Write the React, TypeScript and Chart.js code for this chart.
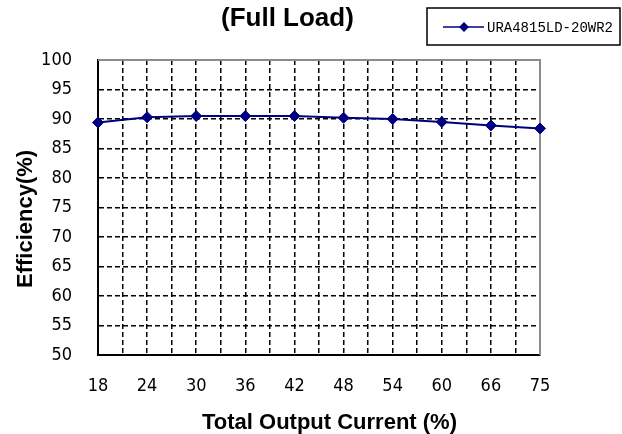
import React, { useEffect, useRef } from 'react';
import { Chart, registerables } from 'chart.js';

Chart.register(...registerables);

const categories = ['18', '24', '30', '36', '42', '48', '54', '60', '66', '75'];
const efficiency = [89.4, 90.3, 90.5, 90.5, 90.5, 90.2, 90.0, 89.5, 88.9, 88.4];
const seriesLabel = 'URA4815LD-20WR2';
const chartTitle = '(Full Load)';
const xTitle = 'Total Output Current (%)';
const yTitle = 'Efficiency(%)';
const yMin = 50;
const yMax = 100;
const yStep = 5;

const NAVY = '#000080';
const BOLD = '"Liberation Sans", Arial, sans-serif';
const MONO = '"Liberation Mono", monospace';
const TICK = '"DejaVu Sans Condensed", "Liberation Sans Narrow", "DejaVu Sans", sans-serif';

function drawDiamond(ctx: CanvasRenderingContext2D, x: number, y: number, r: number) {
  ctx.beginPath();
  ctx.moveTo(x, y - r);
  ctx.lineTo(x + r, y);
  ctx.lineTo(x, y + r);
  ctx.lineTo(x - r, y);
  ctx.closePath();
  ctx.fill();
}

const decor = {
  id: 'decor',
  beforeDatasetsDraw(chart: any) {
    const { ctx, chartArea: a } = chart;
    ctx.save();
    ctx.strokeStyle = '#8c8c8c';
    ctx.lineWidth = 2;
    ctx.beginPath();
    ctx.moveTo(a.left, a.top);
    ctx.lineTo(a.right, a.top);
    ctx.lineTo(a.right, a.bottom);
    ctx.stroke();
    ctx.restore();
  },
  afterDraw(chart: any) {
    const { ctx } = chart;
    ctx.save();
    ctx.fillStyle = '#000';
    ctx.textBaseline = 'alphabetic';
    ctx.textAlign = 'left';
    // chart title
    ctx.font = `bold 26px ${BOLD}`;
    ctx.fillText(chartTitle, 221, 26);
    // x title
    ctx.font = `bold 22px ${BOLD}`;
    ctx.fillText(xTitle, 202, 429);
    // y title
    ctx.save();
    ctx.translate(32, 288);
    ctx.rotate(-Math.PI / 2);
    ctx.fillText(yTitle, 0, 0);
    ctx.restore();
    // legend
    ctx.strokeStyle = '#000';
    ctx.lineWidth = 1.5;
    ctx.strokeRect(427, 8, 193, 37);
    ctx.strokeStyle = NAVY;
    ctx.fillStyle = NAVY;
    ctx.lineWidth = 1.5;
    ctx.beginPath();
    ctx.moveTo(443, 27);
    ctx.lineTo(484, 27);
    ctx.stroke();
    drawDiamond(ctx, 464, 27, 5);
    ctx.fillStyle = '#000';
    ctx.font = `14px ${MONO}`;
    ctx.textBaseline = 'middle';
    ctx.fillText(chart.data.datasets[0].label, 487, 28);
    ctx.restore();
  },
};

export default function App() {
  const ref = useRef<HTMLCanvasElement>(null);
  useEffect(() => {
    if (!ref.current) return;
    const chart = new Chart(ref.current, {
      type: 'line',
      data: {
        datasets: [
          {
            label: seriesLabel,
            data: efficiency.map((v, i) => ({ x: i, y: v })),
            borderColor: NAVY,
            backgroundColor: NAVY,
            borderWidth: 2,
            pointStyle: 'rectRot',
            pointRadius: 5.5,
            pointBorderWidth: 1,
            pointBackgroundColor: NAVY,
            pointBorderColor: NAVY,
            tension: 0,
            clip: false as any,
          },
        ],
      },
      options: {
        responsive: false,
        animation: false,
        layout: { padding: { left: 0, top: 60, right: 82, bottom: 0 } },
        plugins: {
          legend: { display: false },
          title: { display: false },
          tooltip: { enabled: false },
        },
        scales: {
          x: {
            type: 'linear',
            min: 0,
            max: categories.length - 1,
            afterFit: (s: any) => {
              s.height = 79;
            },
            ticks: {
              stepSize: 0.5,
              autoSkip: false,
              maxRotation: 0,
              padding: 21,
              color: '#000',
              font: { family: TICK, size: 18 },
              callback: (v: any) => (Number.isInteger(v) ? categories[v] : ''),
            },
            grid: {
              drawTicks: false,
              color: (c: any) => (c.tick && c.tick.value === categories.length - 1 ? 'rgba(0,0,0,0)' : '#000'),
              lineWidth: 1.5,
            },
            border: { display: true, color: '#000', width: 2, dash: [5, 3] },
          },
          y: {
            min: yMin,
            max: yMax,
            afterFit: (s: any) => {
              s.width = 98;
            },
            ticks: {
              stepSize: yStep,
              padding: 26,
              color: '#000',
              font: { family: TICK, size: 18 },
            },
            grid: {
              drawTicks: false,
              color: (c: any) => (c.tick && c.tick.value === yMax ? 'rgba(0,0,0,0)' : '#000'),
              lineWidth: 1.5,
            },
            border: { display: true, color: '#000', width: 2, dash: [5, 3] },
          },
        },
      },
      plugins: [decor],
    });
    return () => chart.destroy();
  }, []);
  return (
    <div style={{ position: 'absolute', left: 0, top: 0, width: 622, height: 434, background: '#fff' }}>
      <canvas ref={ref} width={622} height={434} style={{ width: 622, height: 434 }} />
    </div>
  );
}
